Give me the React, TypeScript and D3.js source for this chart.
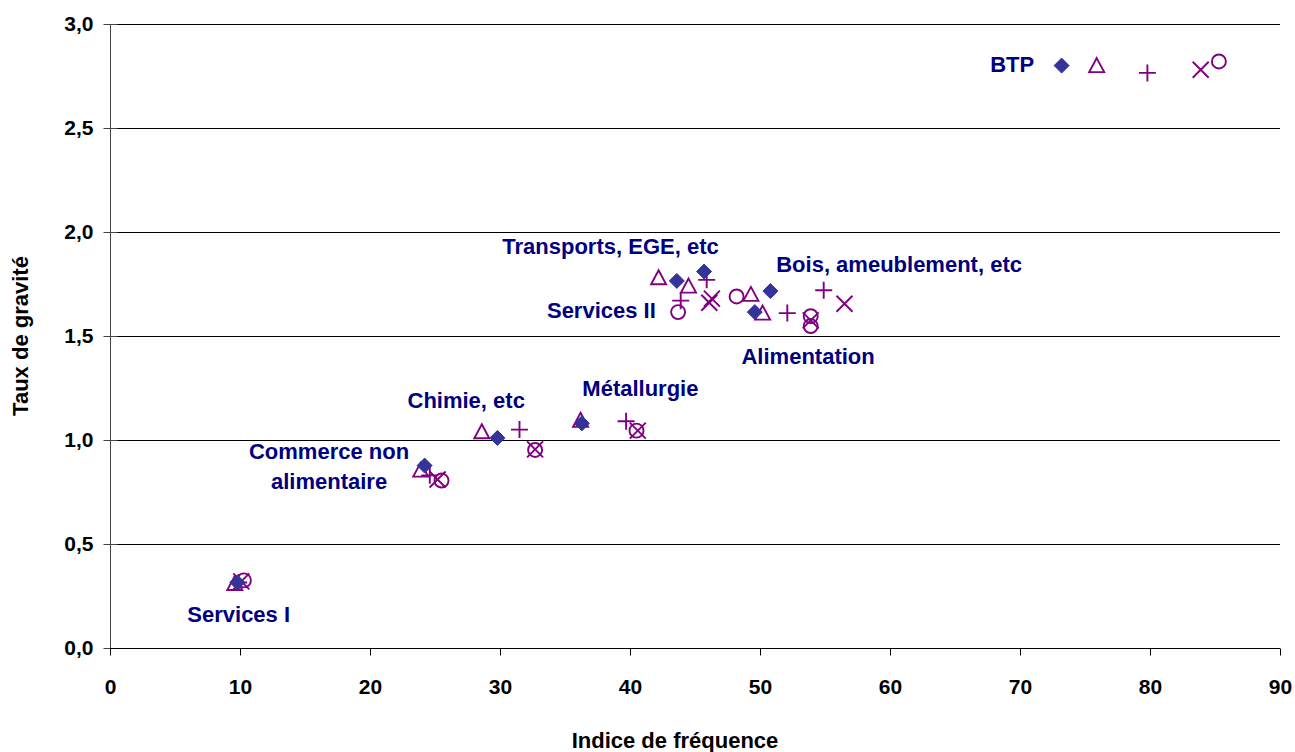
import React, { useEffect, useRef } from 'react';
import * as d3 from 'd3';

// one entry per sector, same order in every series
const sectors = [
  'BTP',
  'Transports, EGE, etc',
  'Services II',
  'Bois, ameublement, etc',
  'Alimentation',
  'Métallurgie',
  'Chimie, etc',
  'Commerce non alimentaire',
  'Services I',
];

// [indice de fréquence, taux de gravité]
const serieDiamond: [number, number][] = [
  [73.2, 2.8], [45.7, 1.81], [43.6, 1.765], [50.8, 1.716], [49.6, 1.615],
  [36.3, 1.08], [29.8, 1.01], [24.2, 0.877], [9.8, 0.315],
];
const serieTriangle: [number, number][] = [
  [75.9, 2.8], [44.5, 1.74], [42.2, 1.78], [49.3, 1.7], [50.2, 1.61],
  [36.2, 1.095], [28.6, 1.04], [23.9, 0.855], [9.6, 0.31],
];
const seriePlus: [number, number][] = [
  [79.8, 2.765], [45.9, 1.77], [43.9, 1.67], [54.9, 1.72], [52.1, 1.61],
  [39.7, 1.09], [31.5, 1.05], [24.6, 0.83], [9.9, 0.315],
];
const serieCross: [number, number][] = [
  [83.9, 2.78], [46.3, 1.68], [46.1, 1.66], [56.5, 1.655], [53.9, 1.575],
  [40.6, 1.045], [32.7, 0.955], [25.2, 0.81], [10.1, 0.32],
];
const serieCircle: [number, number][] = [
  [85.3, 2.82], [48.2, 1.69], [43.7, 1.615], [53.9, 1.595], [53.9, 1.548],
  [40.5, 1.045], [32.7, 0.952], [25.5, 0.805], [10.3, 0.325],
];

// label anchors in data units
const labels: { text: string[]; x: number; y: number }[] = [
  { text: ['BTP'], x: 69.4, y: 2.81 },
  { text: ['Transports, EGE, etc'], x: 38.5, y: 1.933 },
  { text: ['Services II'], x: 37.8, y: 1.625 },
  { text: ['Bois, ameublement, etc'], x: 60.7, y: 1.846 },
  { text: ['Alimentation'], x: 53.7, y: 1.404 },
  { text: ['Métallurgie'], x: 40.8, y: 1.25 },
  { text: ['Chimie, etc'], x: 27.4, y: 1.19 },
  { text: ['Commerce non', 'alimentaire'], x: 16.85, y: 0.875 },
  { text: ['Services I'], x: 9.9, y: 0.163 },
];

const xTicks = [0, 10, 20, 30, 40, 50, 60, 70, 80, 90];
const yTicks = [0, 0.5, 1, 1.5, 2, 2.5, 3];

const App: React.FC = () => {
  const ref = useRef<SVGSVGElement>(null);

  useEffect(() => {
    if (!ref.current) return;
    const svg = d3.select(ref.current);
    svg.selectAll('*').remove();

    const left = 110, right = 1280, top = 24, bottom = 648;
    const x = d3.scaleLinear().domain([0, 90]).range([left, right]);
    const y = d3.scaleLinear().domain([0, 3]).range([bottom, top]);
    const font = 'Liberation Sans, Arial, sans-serif';
    const purple = '#800080';
    const fmt = (v: number) => d3.format('.1f')(v).replace('.', ',');

    // gridlines
    svg.append('g')
      .selectAll('line')
      .data(yTicks.filter(t => t > 0))
      .enter().append('line')
      .attr('x1', left).attr('x2', right)
      .attr('y1', d => Math.round(y(d)) + 0.5).attr('y2', d => Math.round(y(d)) + 0.5)
      .attr('stroke', '#000').attr('stroke-width', 1);

    // y axis, ticks cross the axis line
    const gy = svg.append('g')
      .attr('transform', `translate(${left + 0.5},0)`)
      .call(d3.axisLeft(y).tickValues(yTicks).tickFormat(d => fmt(+d)).tickSize(7).tickPadding(10));
    gy.select('.domain').attr('stroke', '#444').attr('d', `M0,${bottom}V${top}`);
    gy.selectAll('.tick line').attr('stroke', '#444').attr('x1', 7);
    gy.selectAll('text').attr('font-family', font).attr('font-size', 21).attr('font-weight', 'bold').attr('fill', '#000');

    // x axis
    const gx = svg.append('g')
      .attr('transform', `translate(0,${Math.round(bottom) + 0.5})`)
      .call(d3.axisBottom(x).tickValues(xTicks).tickFormat(d3.format('d')).tickSize(7).tickPadding(24));
    gx.select('.domain').attr('stroke', '#000').attr('d', `M${left},0H${right}`);
    gx.selectAll('.tick line').attr('stroke', '#000');
    gx.selectAll('text').attr('font-family', font).attr('font-size', 21).attr('font-weight', 'bold').attr('fill', '#000');

    // axis titles
    svg.append('text')
      .attr('x', 675).attr('y', 748)
      .attr('text-anchor', 'middle')
      .attr('font-family', font).attr('font-size', 22).attr('font-weight', 'bold')
      .text('Indice de fréquence');
    svg.append('text')
      .attr('transform', 'translate(28,336) rotate(-90)')
      .attr('text-anchor', 'middle')
      .attr('font-family', font).attr('font-size', 22).attr('font-weight', 'bold')
      .text('Taux de gravité');

    const marks = svg.append('g');
    const pos = (d: [number, number]) => `translate(${x(d[0])},${y(d[1])})`;

    // triangles
    marks.selectAll('.tri').data(serieTriangle).enter().append('path')
      .attr('transform', pos)
      .attr('d', 'M0,-7.5L7.5,6.5H-7.5Z')
      .attr('fill', 'none').attr('stroke', purple).attr('stroke-width', 1.9);
    // plus
    marks.selectAll('.plus').data(seriePlus).enter().append('path')
      .attr('transform', pos)
      .attr('d', 'M-8.5,0H8.5M0,-8.5V8.5')
      .attr('fill', 'none').attr('stroke', purple).attr('stroke-width', 1.9);
    // cross
    marks.selectAll('.cross').data(serieCross).enter().append('path')
      .attr('transform', pos)
      .attr('d', 'M-8,-8L8,8M-8,8L8,-8')
      .attr('fill', 'none').attr('stroke', purple).attr('stroke-width', 1.9);
    // circles
    marks.selectAll('.circ').data(serieCircle).enter().append('circle')
      .attr('transform', pos)
      .attr('r', 7)
      .attr('fill', 'none').attr('stroke', purple).attr('stroke-width', 1.9);
    // diamonds
    marks.selectAll('.dia').data(serieDiamond).enter().append('path')
      .attr('transform', pos)
      .attr('d', 'M0,-7.5L7.5,0L0,7.5L-7.5,0Z')
      .attr('fill', '#333399').attr('stroke', '#333399').attr('stroke-width', 1);

    // sector labels
    const lab = svg.append('g')
      .selectAll('text')
      .data(labels)
      .enter().append('text')
      .attr('text-anchor', 'middle')
      .attr('font-family', font).attr('font-size', 22).attr('font-weight', 'bold')
      .attr('fill', '#000080');
    lab.each(function (d) {
      const t = d3.select(this);
      const n = d.text.length;
      d.text.forEach((line, i) => {
        t.append('tspan')
          .attr('x', x(d.x))
          .attr('y', y(d.y) + 8 + (i - (n - 1) / 2) * 30)
          .text(line);
      });
    });
  }, []);

  return (
    <div style={{ position: 'absolute', left: 0, top: 0 }}>
      <svg ref={ref} width={1295} height={752} aria-label={sectors.join(', ')}></svg>
    </div>
  );
};

export default App;
